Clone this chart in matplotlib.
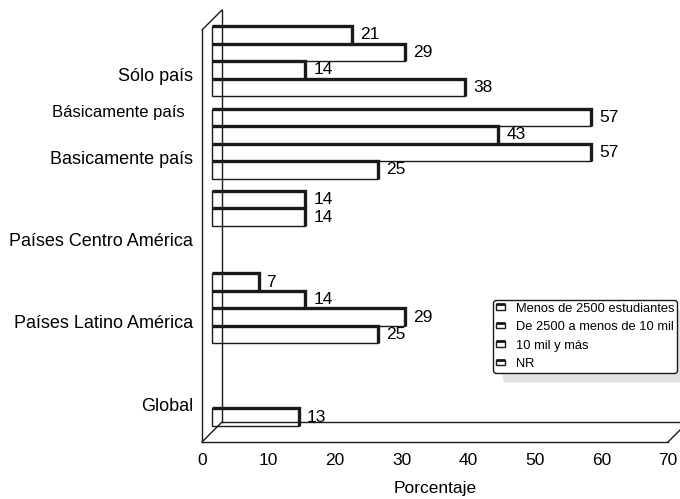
import matplotlib
matplotlib.use('Agg')
import matplotlib.pyplot as plt
import numpy as np
from matplotlib.transforms import ScaledTranslation, IdentityTransform
from matplotlib.patches import Rectangle, ConnectionPatch, FancyBboxPatch, Patch
from matplotlib.lines import Line2D
from matplotlib.legend_handler import HandlerBase

plt.rcParams['font.family'] = ['Liberation Sans', 'DejaVu Sans']

# ---- data (categories bottom to top) ----
categories = ['Global', 'Países Latino América', 'Países Centro América',
              'Basicamente país', 'Sólo país']
series_names = ['Menos de 2500 estudiantes', 'De 2500 a menos de 10 mil',
                '10 mil y más', 'NR']
menos_2500 = [13, 25, None, 25, 38]
de_2500_10mil = [None, 29, None, 57, 14]
diez_mil_mas = [None, 14, 14, 43, 29]
nr = [None, 7, 14, 57, 21]
extra_label = 'Básicamente país'
x_ticks = [0, 10, 20, 30, 40, 50, 60, 70]
x_label = 'Porcentaje'

W, H, DPI = 680, 499, 100
INK = '#1a1a1a'
fig = plt.figure(figsize=(W / DPI, H / DPI), dpi=DPI)
fig.patch.set_facecolor('white')
ax = fig.add_axes([202 / W, 57 / H, 466 / W, 412 / H])
ax.set_xlim(0, 70)
ax.set_ylim(-0.5, 4.5)
for sp in ax.spines.values():
    sp.set_visible(False)
ax.patch.set_visible(False)
ax.set_xticks(x_ticks)
ax.set_yticks(range(len(categories)))
ax.set_yticklabels(categories, fontsize=13)
ax.tick_params(axis='x', length=0, pad=8, labelsize=12.5)
ax.tick_params(axis='y', length=0, pad=6.5)
ax.set_xlabel(x_label, fontsize=12.5, labelpad=9)
for tl in ax.get_yticklabels():
    tl.set_transform(tl.get_transform()
                     + ScaledTranslation(0, -0.035, fig.dpi_scale_trans))

# 3D depth offsets (mid-depth for bars, full depth for back walls)
mid = ax.transData + ScaledTranslation(0.1, 0.1, fig.dpi_scale_trans)
back = ax.transData + ScaledTranslation(0.2, 0.2, fig.dpi_scale_trans)
lab = ax.transData + ScaledTranslation(0.18, 0.1, fig.dpi_scale_trans)

group_w = 0.85
all_series = [menos_2500, de_2500_10mil, diez_mil_mas, nr]
bh = group_w / len(all_series)
y_idx = np.arange(len(categories))
for s, vals in enumerate(all_series):
    yc = y_idx - group_w / 2 + bh * (s + 0.5)
    for y, v in zip(yc, vals):
        if v is None:
            continue
        ax.barh(y, v, height=bh, color='white', edgecolor=INK, linewidth=1.0,
                transform=mid, clip_on=False, zorder=2)
        ax.plot([0, v, v], [y + bh / 2, y + bh / 2, y - bh / 2], color=INK,
                lw=2.4, transform=mid, clip_on=False, zorder=3,
                solid_joinstyle='miter', solid_capstyle='butt')
        ax.text(v, y, str(v), transform=lab, ha='left', va='center',
                fontsize=12.5, zorder=4)

# walls / floor
wall_kw = dict(color=INK, lw=1.0, zorder=5, clip_on=False)
ax.plot([0, 0], [-0.5, 4.5], transform=ax.transData, **wall_kw)
ax.plot([0, 0], [-0.5, 4.5], transform=back, **wall_kw)
ax.plot([0, 70], [-0.5, -0.5], transform=ax.transData, **wall_kw)
ax.plot([0, 70], [-0.5, -0.5], transform=back, **wall_kw)
for (xa, ya) in [(0, 4.5), (0, -0.5), (70, -0.5)]:
    ax.add_artist(ConnectionPatch((xa, ya), (xa, ya), coordsA=ax.transData,
                                  coordsB=back, **wall_kw))

ax.annotate(extra_label, xy=(0, 3.52), xycoords=('axes fraction', 'data'),
            xytext=(-17, -2), textcoords='offset pixels', ha='right',
            va='center', fontsize=12)


class BoxHandler(HandlerBase):
    def create_artists(self, legend, orig_handle, xdescent, ydescent, width,
                       height, fontsize, trans):
        x0, y0 = -xdescent, -ydescent
        h = height * 0.6
        yb = y0 + (height - h) / 2
        r = Rectangle((x0, yb), width, h, facecolor='white', edgecolor=INK,
                      lw=1.0, transform=trans)
        t = Line2D([x0, x0 + width], [yb + h, yb + h], color=INK, lw=2.0,
                   transform=trans, solid_capstyle='butt')
        return [r, t]


handles = [Patch(facecolor='white', edgecolor=INK) for _ in series_names]
leg = fig.legend(handles, series_names, loc='upper left',
                 bbox_to_anchor=(493 / W, 1 - 300 / H),
                 bbox_transform=fig.transFigure, borderaxespad=0,
                 fontsize=9.3, handlelength=0.7, handleheight=0.7,
                 handletextpad=0.85, labelspacing=0.5, borderpad=0.2,
                 fancybox=True, frameon=True, framealpha=1.0,
                 handler_map={Patch: BoxHandler()})
leg.get_frame().set_edgecolor(INK)
leg.get_frame().set_linewidth(1.0)
leg.set_zorder(6)

fig.canvas.draw()
bb = leg.get_frame().get_window_extent()
shadow = FancyBboxPatch((bb.x0 + 10, bb.y0 - 10), bb.width, bb.height,
                        boxstyle='round,pad=0,rounding_size=4',
                        facecolor='#e2e2e2', edgecolor='none',
                        transform=IdentityTransform(), zorder=5)
fig.add_artist(shadow)

fig.savefig('out.png', dpi=DPI)
